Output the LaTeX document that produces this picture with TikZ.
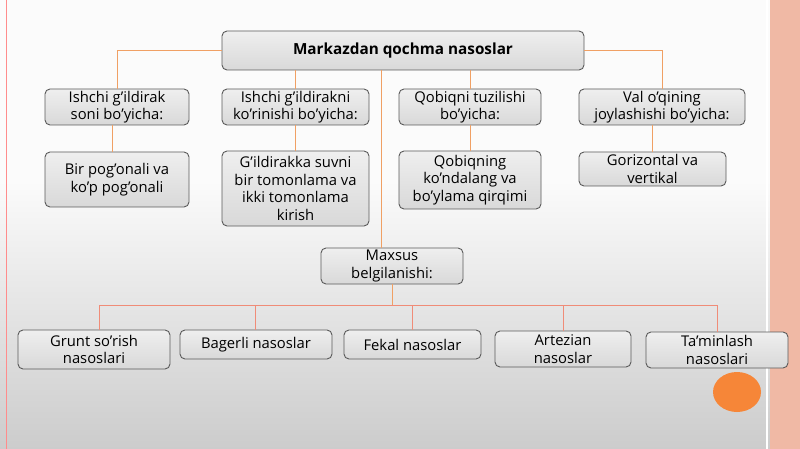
\documentclass[tikz,border=0pt]{standalone}
\usepackage{fontspec}
\setmainfont{Open Sans}
\usetikzlibrary{calc}
\definecolor{lineor}{RGB}{240,160,100}
\definecolor{busred}{RGB}{240,140,120}
\definecolor{boxbd}{RGB}{90,90,90}
\definecolor{boxfill}{RGB}{228,228,228}
\definecolor{band}{RGB}{240,185,165}
\definecolor{dot}{RGB}{246,134,56}
\tikzset{
  box/.style={draw=boxbd, line width=0.9pt, rounded corners=5pt, top color=boxfill!60!white, bottom color=boxfill!95!black,
    align=center, inner sep=1pt, font=\fontsize{14.8}{17.5}\selectfont},
  conn/.style={draw=lineor, line width=0.9pt},
  busln/.style={draw=busred, line width=0.9pt}
}
\begin{document}
\begin{tikzpicture}[x=1pt,y=-1pt]
\useasboundingbox (0,0) rectangle (800,449);
% background
\fill[white!97!gray] (0,0) rectangle (800,180);
\shade[top color=white!97!gray, bottom color=white!80!black] (0,179.5) rectangle (800,449);
\fill[band] (770,0) rectangle (800,449);
\draw[white, line width=1.5pt] (767,0) -- (767,449);
\draw[red!45!white, line width=1pt] (6,0) -- (6,449);
\fill[dot] (737,392) ellipse [x radius=24pt, y radius=20pt];

% nodes
\node[box, minimum width=362pt, minimum height=39pt, font=\fontsize{15.3}{18}\selectfont\bfseries] (top) at (403,50.5) {Markazdan qochma nasoslar};
\node[box, minimum width=144pt, minimum height=36pt] (a1) at (117,107) {Ishchi g’ildirak\\soni bo’yicha:};
\node[box, minimum width=147pt, minimum height=36pt] (a2) at (295.5,107) {Ishchi g’ildirakni\\ko’rinishi bo’yicha:};
\node[box, minimum width=142pt, minimum height=36pt] (a3) at (470,107) {Qobiqni tuzilishi\\bo’yicha:};
\node[box, minimum width=166pt, minimum height=36pt] (a4) at (662,107) {Val o’qining\\joylashishi bo’yicha:};
\node[box, minimum width=144pt, minimum height=55pt] (b1) at (117,179.5) {Bir pog’onali va\\ko’p pog’onali};
\node[box, minimum width=147pt, minimum height=75pt] (b2) at (295.5,188.5) {G’ildirakka suvni\\bir tomonlama va\\ikki tomonlama\\kirish};
\node[box, minimum width=142pt, minimum height=58pt] (b3) at (470,180) {Qobiqning\\ko’ndalang va\\bo’ylama qirqimi};
\node[box, minimum width=147pt, minimum height=34pt] (b4) at (652.5,169) {Gorizontal va\\vertikal};
\node[box, minimum width=142pt, minimum height=36pt] (m) at (392,266) {Maxsus\\belgilanishi:};
\node[box, minimum width=152pt, minimum height=39pt] (c1) at (94,349.5) {Grunt so’rish\\nasoslari};
\node[box, minimum width=152pt, minimum height=29pt] (c2) at (256,344.5) {Bagerli nasoslar};
\node[box, minimum width=137pt, minimum height=29pt] (c3) at (412.5,344.5) {Fekal nasoslar};
\node[box, minimum width=136pt, minimum height=36pt] (c4) at (563,349) {Artezian\\nasoslar};
\node[box, minimum width=142pt, minimum height=36pt] (c5) at (717,350) {Ta’minlash\\nasoslari};

% connectors
\draw[conn] (top.west) -| (a1.north);
\draw[conn] (top.east) -| (a4.north);
\draw[conn] (top.south -| a2.north) -- (a2.north);
\draw[conn] (top.south -| a3.north) -- (a3.north);
\draw[conn] ([xshift=-11pt]m.north |- top.south) -- ([xshift=-11pt]m.north);
\draw[conn] ([xshift=-5pt]a1.south) -- ([xshift=-5pt]b1.north);
\draw[conn] (a2.south) -- (b2.north);
\draw[conn] (a3.south) -- (b3.north);
\draw[conn] (a4.south -| b4.north) -- (b4.north);
\coordinate (bus) at (392,305);
\draw[conn] (m.south) -- (bus);
\draw[busln] ([xshift=5pt]c1.north |- bus) -- (c5.north |- bus);
\draw[busln] ([xshift=5pt]c1.north |- bus) -- ([xshift=5pt]c1.north);
\draw[busln] ([xshift=-1pt]c2.north |- bus) -- ([xshift=-1pt]c2.north);
\draw[busln] (c3.north |- bus) -- (c3.north);
\draw[busln] (c4.north |- bus) -- (c4.north);
\draw[busln] (c5.north |- bus) -- (c5.north);
\end{tikzpicture}
\end{document}
